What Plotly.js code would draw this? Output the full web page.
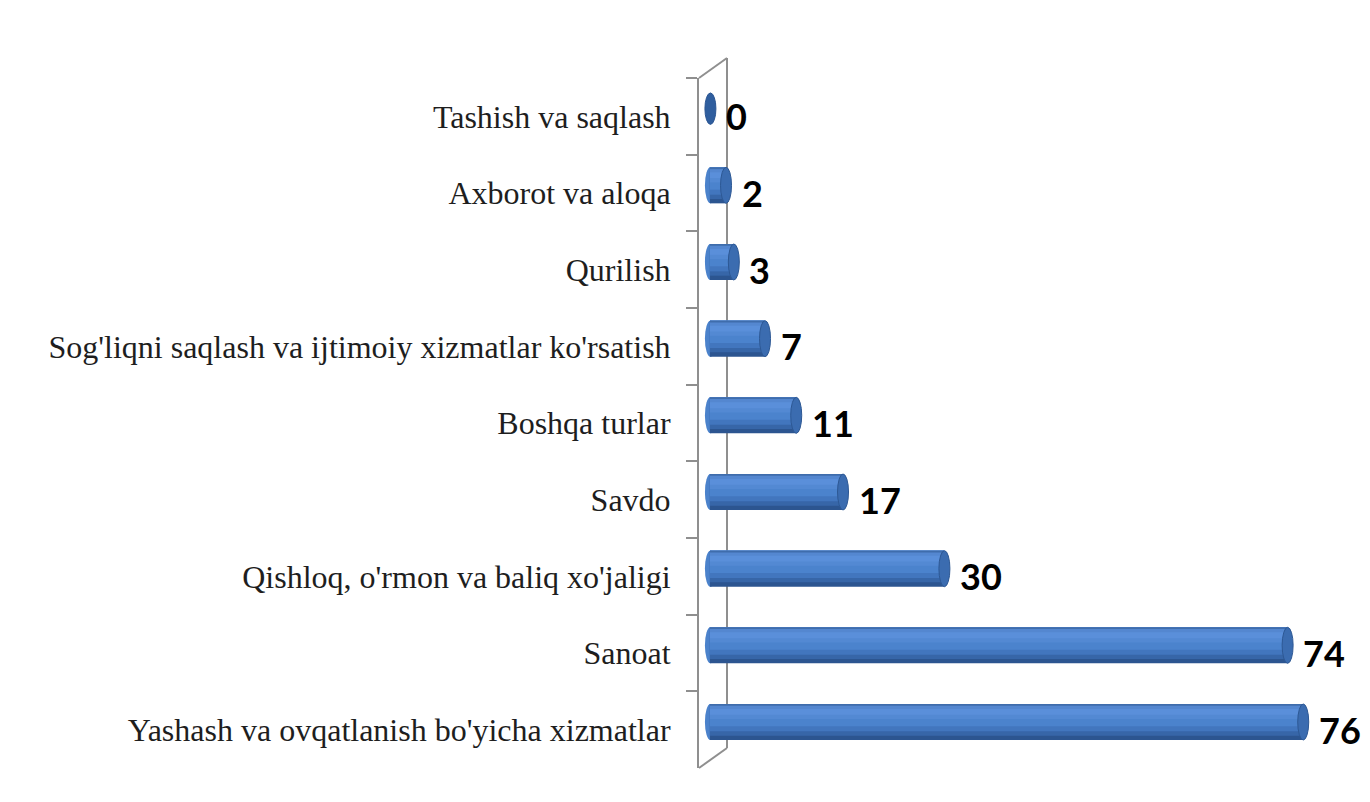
<!DOCTYPE html>
<html>
<head>
<meta charset="utf-8">
<script src="https://cdn.plot.ly/plotly-3.0.1.min.js"></script>
<style>html,body{margin:0;padding:0;background:#fff;}#chart{width:1370px;height:802px;}</style>
</head>
<body>
<div id="chart"></div>
<script>
// Data (top to bottom)
const categories = [
  "Tashish va saqlash",
  "Axborot va aloqa",
  "Qurilish",
  "Sog'liqni saqlash va ijtimoiy xizmatlar ko'rsatish",
  "Boshqa turlar",
  "Savdo",
  "Qishloq, o'rmon va baliq xo'jaligi",
  "Sanoat",
  "Yashash va ovqatlanish bo'yicha xizmatlar"
];
const values = [0, 2, 3, 7, 11, 17, 30, 74, 76];

// Layout geometry
const L = 699, T = 78, W = 641, H = 690;
const pxPerUnit = 7.8;
const xMin = -1.4, xMax = xMin + W / pxPerUnit;
const px2x = px => (px - L) / W;
const py2y = py => 1 - (py - T) / H;

// cylinder shading: painted from the bottom band up, each layer spans from bar top to fraction b
const barTop = -0.335, barH = 0.47;
const bands = [
  [1.00, '#2c5590'],
  [0.88, '#3766a8'],
  [0.76, '#4276be'],
  [0.62, '#4b83cd'],
  [0.42, '#5389d3'],
  [0.30, '#5a8fda'],
  [0.14, '#5487d0'],
  [0.05, '#3f6dac']
];
const traces = bands.map(([b, c]) => ({
  type: 'bar', orientation: 'h',
  x: values, y: categories,
  offset: barTop, width: b * barH,
  marker: {color: c, line: {width: 0}},
  hoverinfo: 'skip', showlegend: false, cliponaxis: false
}));

const shapes = [];
// wall lines
const wallColor = '#8f8f8f';
shapes.push({type:'line', xref:'paper', yref:'paper', x0:px2x(727), x1:px2x(727), y0:py2y(58), y1:py2y(748), line:{color:wallColor, width:2}, layer:'below'});
shapes.push({type:'line', xref:'paper', yref:'paper', x0:px2x(699), x1:px2x(727), y0:py2y(78), y1:py2y(58), line:{color:wallColor, width:2}, layer:'below'});
shapes.push({type:'line', xref:'paper', yref:'paper', x0:px2x(699), x1:px2x(727), y0:py2y(768), y1:py2y(748), line:{color:wallColor, width:2}, layer:'below'});

// cylinder caps
values.forEach((v, i) => {
  const y0 = i + barTop, y1 = i + barTop + barH;
  if (v === 0) {
    shapes.push({type:'circle', xref:'x', yref:'y', xsizemode:'pixel', xanchor:0, x0:-5, x1:6, y0:y0 + 0.03, y1:y1 - 0.03,
      fillcolor:'#2f5e9e', line:{color:'#2a5592', width:1}, layer:'above'});
  } else {
    shapes.push({type:'circle', xref:'x', yref:'y', xsizemode:'pixel', xanchor:0, x0:-5, x1:6, y0:y0, y1:y1,
      fillcolor:'#4b82cb', line:{width:0}, layer:'below'});
    shapes.push({type:'circle', xref:'x', yref:'y', xsizemode:'pixel', xanchor:v, x0:-5, x1:6, y0:y0, y1:y1,
      fillcolor:'#3b6cb0', line:{color:'#2d5894', width:1}, layer:'above'});
  }
});

const annotations = values.map((v, i) => ({
  x: v, y: categories[i], xref:'x', yref:'y',
  text: String(v), showarrow:false, xanchor:'left', yanchor:'middle', xshift:14,
  font:{family:'Lato, "Open Sans", sans-serif', size:36, color:'#000', weight:'bold'}
}));

const layout = {
  width: 1370, height: 802,
  margin: {l: L, r: 1370 - L - W, t: T, b: 802 - T - H},
  paper_bgcolor:'#fff', plot_bgcolor:'rgba(0,0,0,0)',
  barmode:'overlay',
  showlegend:false,
  xaxis: {range:[xMin, xMax], visible:false, fixedrange:true},
  yaxis: {
    type:'category', autorange:'reversed',
    showline:true, linecolor:wallColor, linewidth:2,
    ticks:'outside', ticklen:11, tickwidth:2, tickcolor:wallColor,
    tickson:'boundaries', ticklabelstandoff:20,
    showgrid:false, zeroline:false,
    tickfont:{family:'"Liberation Serif", "Times New Roman", serif', size:32, color:'#1e1e1e'}
  },
  shapes: shapes,
  annotations: annotations
};

Plotly.newPlot('chart', traces, layout, {displayModeBar:false, staticPlot:true});
</script>
</body>
</html>
